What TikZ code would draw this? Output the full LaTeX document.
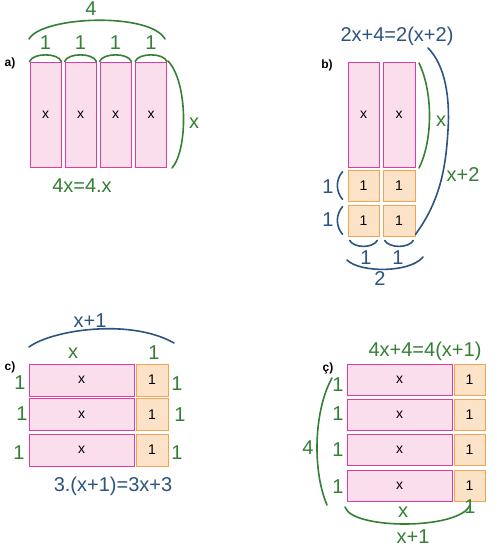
\documentclass[tikz,border=0pt]{standalone}
\usepackage{fontspec}
\setmainfont{Liberation Sans}
\definecolor{pinkfill}{RGB}{251,222,236}
\definecolor{pinkline}{RGB}{224,60,160}
\definecolor{orfill}{RGB}{252,226,198}
\definecolor{orline}{RGB}{240,164,84}
\definecolor{gr}{RGB}{52,128,52}
\definecolor{bl}{RGB}{44,84,128}
\begin{document}
\begin{tikzpicture}[x=1pt,y=-1pt,
  pinkbox/.style={draw=pinkline,fill=pinkfill,line width=0.8pt,inner sep=0pt,font=\fontsize{14}{14}\selectfont},
  orbox/.style={draw=orline,fill=orfill,line width=0.8pt,inner sep=0pt,font=\fontsize{14}{14}\selectfont,minimum width=31,minimum height=31},
  glab/.style={text=gr,inner sep=0pt,font=\fontsize{20}{20}\selectfont},
  blab/.style={text=bl,inner sep=0pt,font=\fontsize{20}{20}\selectfont},
  tag/.style={inner sep=0pt,font=\fontsize{12}{12}\selectfont\bfseries},
  gline/.style={draw=gr,line width=1.6pt,line cap=round},
  bline/.style={draw=bl,line width=1.6pt,line cap=round}]
\useasboundingbox (0,0) rectangle (497,552);
\fill[white] (0,0) rectangle (497,552);

% ---------- panel a ----------
\node[tag] (ta) at (10,63) {a)};
\foreach \n/\cx in {1/45.5,2/80.5,3/115.5,4/151}
  \node[pinkbox,minimum width=31,minimum height=105] (a\n) at (\cx,114.5) {x};
\foreach \n in {1,2,3,4} {
  \draw[gline] (a\n.north west) .. controls +(3,-9) and +(-3,-9) .. (a\n.north east);
  \node[glab] (a1l\n) at ([yshift=19pt]a\n.north) {1};
}
\coordinate (abl) at (29,39);
\coordinate (abr) at (165,39);
\draw[gline] (abl) .. controls (42,16) and (150,12) .. (abr);
\node[glab] (a4) at (91,9) {4};
\coordinate (arT) at (168,61);
\coordinate (arB) at (172,168);
\draw[gline] (arT) .. controls (188,82) and (188,150) .. (arB);
\node[glab] (ax) at (194,123) {x};
\node[glab] (aeq) at (82,186) {4x=4.x};

% ---------- panel b ----------
\node[blab] (beq) at (397,36) {2x+4=2(x+2)};
\node[tag] (tb) at (327,65) {b)};
\node[pinkbox,minimum width=31,minimum height=105] (b1) at (363.5,114.5) {x};
\node[pinkbox,minimum width=32,minimum height=105] (b2) at (399,114.5) {x};
\node[orbox] (bo1) at (363.5,185.5) {1};
\node[orbox,minimum width=32] (bo2) at (399,185.5) {1};
\node[orbox] (bo3) at (363.5,220.5) {1};
\node[orbox,minimum width=32] (bo4) at (399,220.5) {1};
\coordinate (bgT) at (419,63);
\coordinate (bgB) at (419,168);
\draw[gline] (bgT) .. controls (433,92) and (433,140) .. (bgB);
\node[glab] (bx) at (441,121) {x};
\coordinate (bbT) at (428,48);
\coordinate (bbM) at (448,130);
\draw[bline] (bbT) .. controls (446,66) and (450,100) .. (bbM)
  .. controls (446,165) and (441,200) .. ([yshift=2pt]bo4.south east);
\node[glab] (bx2) at (463,175) {x+2};
\draw[bline] ([xshift=-5pt,yshift=-2pt]bo1.north west) .. controls +(-7,8) and +(-7,-8) .. ([xshift=-5pt,yshift=2pt]bo1.south west);
\draw[bline] ([xshift=-5pt,yshift=-2pt]bo3.north west) .. controls +(-7,8) and +(-7,-8) .. ([xshift=-5pt,yshift=2pt]bo3.south west);
\node[blab] (bl1) at (328,187) {1};
\node[blab] (bl2) at (328,220) {1};
\draw[bline] ([xshift=2pt,yshift=-4pt]bo3.south west) .. controls +(5,8) and +(-5,8) .. ([xshift=-2pt,yshift=-4pt]bo3.south east);
\draw[bline] ([xshift=2pt,yshift=-4pt]bo4.south west) .. controls +(5,8) and +(-5,8) .. ([xshift=-2pt,yshift=-4pt]bo4.south east);
\node[blab] (bb1) at (366,258) {1};
\node[blab] (bb2) at (398,258) {1};
\coordinate (bBL) at (347,260);
\coordinate (bBR) at (423,257);
\draw[bline] (bBL) .. controls (360,273) and (410,273) .. (bBR);
\node[blab] (b2l) at (380,279) {2};

% ---------- panel c ----------
\node[blab] (cx1) at (90,321) {x+1};
\coordinate (cAL) at (29,347);
\coordinate (cAR) at (174,343);
\draw[bline] (cAL) .. controls (52,330) and (130,318) .. (cAR);
\node[glab] (cx) at (73,353) {x};
\node[glab] (c1t) at (154,353) {1};
\node[tag] (tc) at (10,367) {c)};
\foreach \n/\cy in {1/380,2/414.5,3/450} {
  \node[pinkbox,minimum width=105,minimum height=32] (c\n) at (81.5,\cy) {x};
  \node[orbox,minimum width=32,minimum height=32] (co\n) at (152,\cy) {1};
}
\node[glab] (cl1) at (20,383) {1};
\node[glab] (cl2) at (22,414) {1};
\node[glab] (cl3) at (19,453) {1};
\node[glab] (cr1) at (177,384) {1};
\node[glab] (cr2) at (180,415) {1};
\node[glab] (cr3) at (177,453) {1};
\node[blab] (ceq) at (113,486) {3.(x+1)=3x+3};

% ---------- panel c-cedilla ----------
\node[glab] (deq) at (425,351) {4x+4=4(x+1)};
\node[tag] (td) at (328,368) {ç)};
\foreach \n/\cy in {1/379.5,2/414.5,3/449.5,4/485.5} {
  \node[pinkbox,minimum width=105,minimum height=31] (d\n) at (399.5,\cy) {x};
  \node[orbox] (do\n) at (469.5,\cy) {1};
}
\node[glab] (dl1) at (338,385) {1};
\node[glab] (dl2) at (338,414) {1};
\node[glab] (dl3) at (338,450) {1};
\node[glab] (dl4) at (338,487) {1};
\coordinate (dLT) at (332,378);
\coordinate (dLB) at (327,505);
\draw[gline] (dLT) .. controls (314,410) and (312,470) .. (dLB);
\node[glab] (d4) at (308,448) {4};
\coordinate (dBL) at (345,507);
\coordinate (dBR) at (470,505);
\draw[gline] (dBL) .. controls (352,530) and (460,530) .. (dBR);
\node[glab] (dx) at (403,512) {x};
\node[glab] (d1b) at (470,507) {1};
\node[glab] (dx1) at (413,537) {x+1};
\end{tikzpicture}
\end{document}
